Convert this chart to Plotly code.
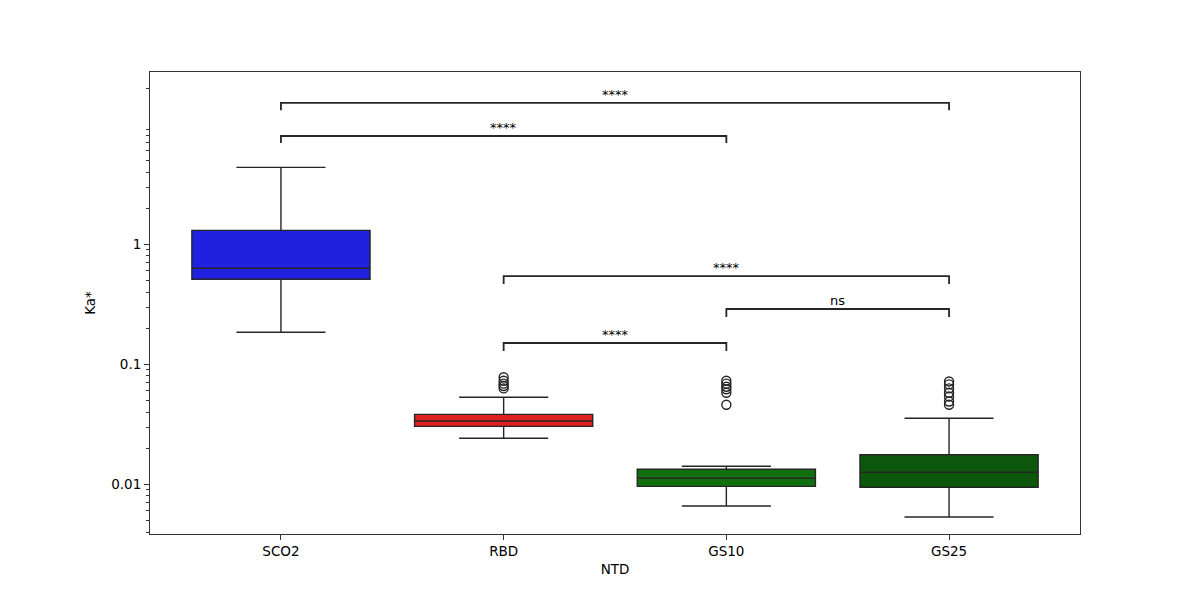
import math
import plotly.graph_objects as go

categories = ["SCO2", "RBD", "GS10", "GS25"]
colors = ["#2020df", "#df2020", "#107010", "#0d570d"]
q1 = [0.511, 0.0304, 0.00962, 0.00944]
median = [0.631, 0.0337, 0.01122, 0.01259]
q3 = [1.308, 0.0383, 0.01334, 0.01766]
lowerfence = [0.185, 0.0242, 0.00659, 0.00534]
upperfence = [4.38, 0.0531, 0.01413, 0.0355]
outliers = [
    [],
    [0.078, 0.073, 0.069, 0.066, 0.063],
    [0.073, 0.069, 0.065, 0.062, 0.058, 0.046],
    [0.072, 0.068, 0.063, 0.058, 0.054, 0.049, 0.046],
]

# significance brackets
bracket_pairs = [(0, 3), (0, 2), (1, 3), (2, 3), (1, 2)]
bracket_top = [15.1, 7.99, 0.544, 0.289, 0.1505]
bracket_end = [13.1, 6.98, 0.466, 0.248, 0.129]
bracket_labels = ["****", "****", "****", "ns", "****"]

edge = "#262626"
font = "DejaVu Sans"

minor_vals = [m * 10 ** e for e in range(-3, 2) for m in range(2, 10)]

fig = go.Figure()
for i, cat in enumerate(categories):
    fig.add_trace(go.Box(
        x=[i], q1=[q1[i]], median=[median[i]], q3=[q3[i]],
        lowerfence=[lowerfence[i]], upperfence=[upperfence[i]],
        width=0.8, whiskerwidth=0.5, fillcolor=colors[i],
        line=dict(color=edge, width=1.4), boxpoints=False,
        showlegend=False, hoverinfo="skip",
    ))
    if outliers[i]:
        fig.add_trace(go.Scatter(
            x=[i] * len(outliers[i]), y=outliers[i], mode="markers",
            marker=dict(symbol="circle-open", size=9, color=edge, line=dict(width=1.4)),
            showlegend=False, hoverinfo="skip",
        ))

for (a, b), top, end, lab in zip(bracket_pairs, bracket_top, bracket_end, bracket_labels):
    fig.add_trace(go.Scatter(
        x=[a, a, b, b], y=[end, top, top, end], mode="lines",
        line=dict(color=edge, width=1.8), showlegend=False, hoverinfo="skip",
    ))
    fig.add_annotation(
        x=(a + b) / 2, y=math.log10(top), yref="y", text=lab, showarrow=False,
        yanchor="bottom", yshift=-1, font=dict(family=font, size=13, color="black"),
    )

axis_common = dict(
    showgrid=False, zeroline=False, showline=True, mirror=True, linecolor="#333",
    linewidth=1, ticks="outside", ticklen=5, tickcolor="#333",
    tickfont=dict(family=font, size=13.5, color="black"),
)

fig.update_layout(
    width=1200, height=600,
    margin=dict(l=150, r=120, t=72, b=66),
    paper_bgcolor="white", plot_bgcolor="white",
    font=dict(family=font, size=13, color="black"),
    xaxis=dict(
        range=[-0.588, 3.588], tickvals=list(range(len(categories))), ticktext=categories,
        title=dict(text="NTD", standoff=6, font=dict(family=font, size=13.5)),
        **axis_common,
    ),
    yaxis=dict(
        type="log", range=[-2.414, 1.436],
        tickvals=[0.01, 0.1, 1], ticktext=["0.01", "0.1", "1"],
        minor=dict(tickvals=minor_vals, ticks="outside", ticklen=3, tickcolor="#333", showgrid=False),
        title=dict(text="Ka*", standoff=12, font=dict(family=font, size=13.5)),
        **axis_common,
    ),
)

fig.write_html("out.html")
